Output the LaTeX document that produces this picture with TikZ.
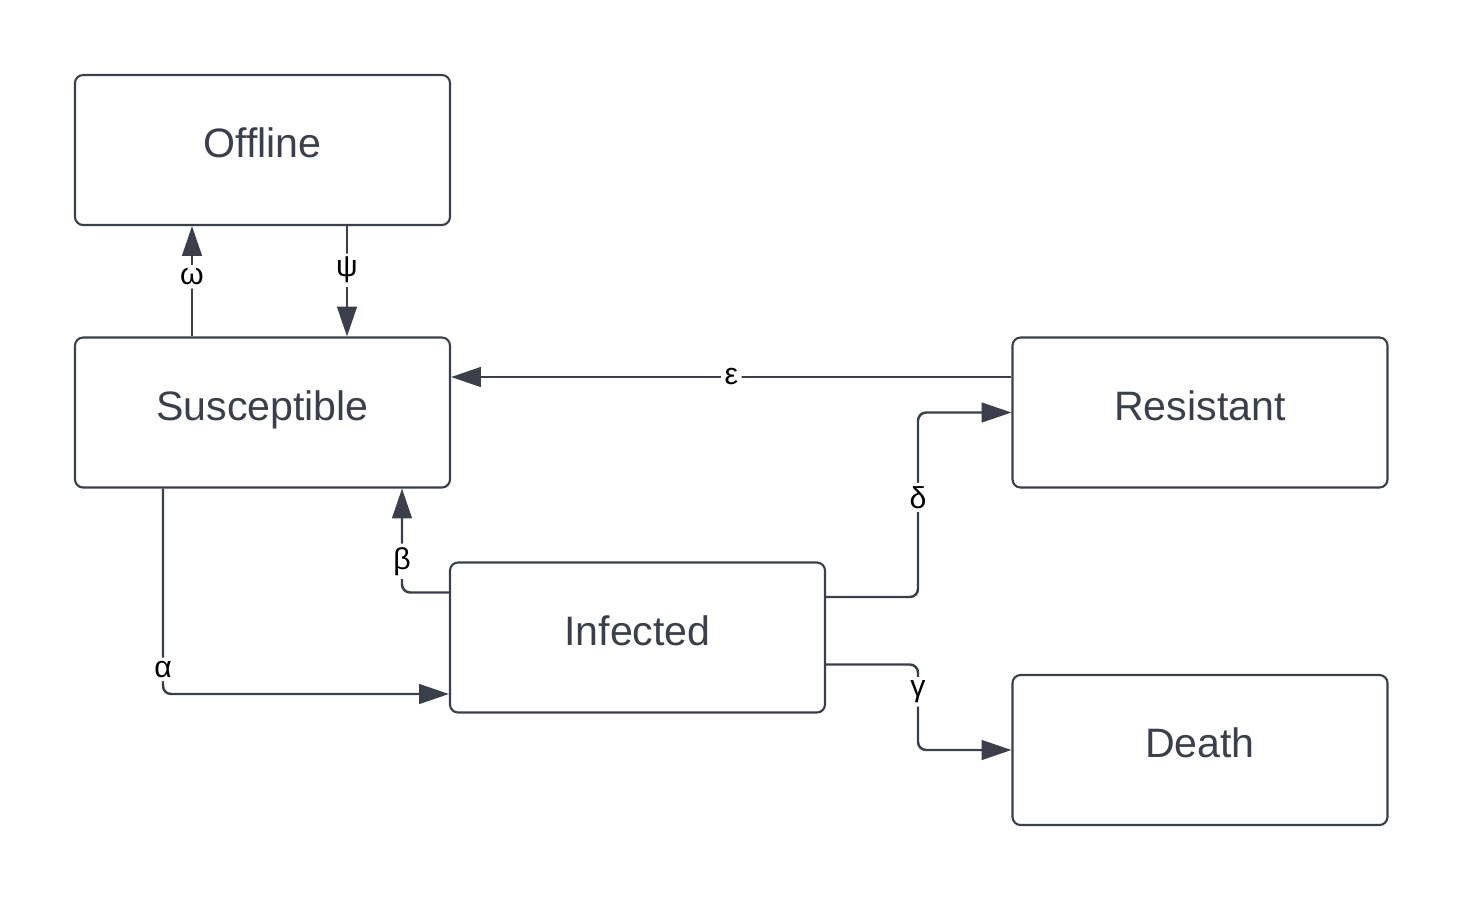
\documentclass[tikz,border=0pt]{standalone}
\usepackage{fontspec}
\setmainfont{Liberation Sans}
\usepackage{xcolor}
\usetikzlibrary{arrows.meta}
\definecolor{boxline}{HTML}{3A3F4A}
\tikzset{
  state/.style={draw=boxline, line width=0.6pt, rounded corners=2.3pt, minimum width=3.75cm, minimum height=1.5cm, text depth=4pt, text=boxline, font=\fontsize{11.7}{14}\selectfont},
  flow/.style={draw=boxline, line width=0.7pt, rounded corners=2.3pt, -{Triangle[length=8.5pt,width=5.6pt]}},
  lbl/.style={fill=white, inner sep=1pt, font=\fontsize{8.6}{10}\selectfont, text=black}
}
\begin{document}
\begin{tikzpicture}
  \useasboundingbox (0,0) rectangle (14.63,-9.0);
  \node[state] (Off) at (2.625,-1.5) {Offline};
  \node[state] (Sus) at (2.625,-4.125) {Susceptible};
  \node[state] (Res) at (12.0,-4.125) {Resistant};
  \node[state] (Inf) at (6.375,-6.375) {Infected};
  \node[state] (Dea) at (12.0,-7.5) {Death};
  % transitions
  \draw[flow] ([xshift=-7.05mm]Sus.north) -- node[lbl,pos=0.54] {ω} ([xshift=-7.05mm]Off.south);
  \draw[flow] ([xshift=8.45mm]Off.south) -- node[lbl,pos=0.4] {ψ} ([xshift=8.45mm]Sus.north);
  \draw[flow] ([yshift=3.55mm]Res.west) -- node[lbl,pos=0.5] {ε} ([yshift=3.55mm]Sus.east);
  \draw[flow] ([yshift=4.05mm]Inf.east) -- (9.18,-5.97) -- node[lbl,pos=0.54] {δ} (9.18,-4.125) -- (Res.west);
  \draw[flow] ([yshift=-2.7mm]Inf.east) -- (9.18,-6.645) -- node[lbl,pos=0.32] {γ} (9.18,-7.5) -- (Dea.west);
  \draw[flow] ([yshift=4.5mm]Inf.west) -- (4.02,-5.925) -- node[lbl,pos=0.3] {β} ([xshift=13.95mm]Sus.south);
  \draw[flow] ([xshift=-9.95mm]Sus.south) -- node[lbl,pos=0.88] {α} (1.63,-6.94) -- ([yshift=-5.65mm]Inf.west);
\end{tikzpicture}
\end{document}
